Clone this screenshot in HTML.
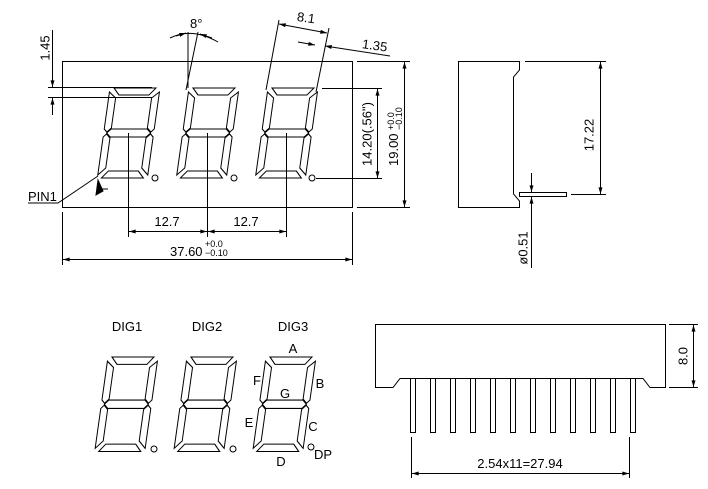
<!DOCTYPE html>
<html><head><meta charset="utf-8"><style>
html,body{margin:0;padding:0;background:#fff;}
svg{display:block;}
text{font-family:"Liberation Sans",sans-serif;font-size:13px;fill:#000;}
.t{font-size:9px;}
</style></head><body>
<svg width="708" height="489" viewBox="0 0 708 489" xmlns="http://www.w3.org/2000/svg">
<defs>
<g id="dg" fill="none" stroke="#000" stroke-width="1">
<path d="M4,0 L46,0 L40,7 L10,7 Z"/>
<path d="M0,4 L7,10 L7,40 L3,44 L0,41 Z"/>
<path d="M50,4 L50,41 L47,44 L43,40 L43,10 Z"/>
<path d="M3,45 L7,41 L43,41 L47,45 L43,49 L7,49 Z"/>
<path d="M0,49 L3,46 L7,50 L7,80 L0,87 Z"/>
<path d="M50,49 L50,87 L43,80 L43,50 L47,46 Z"/>
<path d="M10,83 L40,83 L46,90 L4,90 Z"/>
</g>
<marker id="ar" viewBox="0 0 10 6" refX="10" refY="3" markerWidth="7" markerHeight="4" orient="auto-start-reverse"><path d="M0,0 L10,3 L0,6 Z" fill="#000"/></marker>
</defs>
<g stroke="#000" stroke-width="1" fill="none">
<rect x="62.5" y="61.5" width="290" height="146"/>
<use href="#dg" transform="translate(110,88) skewX(-8)"/>
<use href="#dg" transform="translate(189,88) skewX(-8)"/>
<use href="#dg" transform="translate(268,88) skewX(-8)"/>
<circle cx="155" cy="178" r="3"/><circle cx="234" cy="178" r="3"/><circle cx="312" cy="178" r="3"/>
<line x1="48" y1="87.5" x2="152" y2="87.5"/>
<line x1="48" y1="97.5" x2="152" y2="97.5"/>
<line x1="52.5" y1="30" x2="52.5" y2="87" marker-end="url(#ar)"/>
<line x1="52.5" y1="115" x2="52.5" y2="98" marker-end="url(#ar)"/>
<line x1="188" y1="32" x2="188" y2="88"/>
<line x1="198" y1="32" x2="186" y2="90"/>
<path d="M170,38 Q192,27 218,42"/>
<path d="M176,36 L186,33" marker-end="url(#ar)"/>
<path d="M212,38 L200,34" marker-end="url(#ar)"/>
<line x1="279" y1="20" x2="266" y2="90"/>
<line x1="329" y1="28" x2="316" y2="92"/>
<line x1="279" y1="24" x2="327" y2="33" marker-start="url(#ar)" marker-end="url(#ar)"/>
<line x1="298" y1="42" x2="315" y2="45" marker-end="url(#ar)"/>
<line x1="390" y1="56" x2="325" y2="46" marker-end="url(#ar)"/>
<polyline points="28,203 58,203 98,176"/>
<path d="M98,180 L103,191 L96,195 Z" fill="#000"/>
<line x1="99" y1="189" x2="108" y2="189"/>
<line x1="128.5" y1="133" x2="128.5" y2="237"/>
<line x1="207.5" y1="133" x2="207.5" y2="237"/>
<line x1="286.5" y1="133" x2="286.5" y2="237"/>
<line x1="129" y1="231.5" x2="207" y2="231.5" marker-start="url(#ar)" marker-end="url(#ar)"/>
<line x1="208" y1="231.5" x2="286" y2="231.5" marker-start="url(#ar)" marker-end="url(#ar)"/>
<line x1="62.5" y1="212" x2="62.5" y2="265"/>
<line x1="352.5" y1="212" x2="352.5" y2="265"/>
<line x1="63" y1="259.5" x2="352" y2="259.5" marker-start="url(#ar)" marker-end="url(#ar)"/>
<line x1="357" y1="61.5" x2="410" y2="61.5"/>
<line x1="357" y1="207.5" x2="410" y2="207.5"/>
<line x1="322" y1="88.5" x2="382" y2="88.5"/>
<line x1="316" y1="178.5" x2="382" y2="178.5"/>
<line x1="377.5" y1="89" x2="377.5" y2="178" marker-start="url(#ar)" marker-end="url(#ar)"/>
<line x1="404.5" y1="62" x2="404.5" y2="207" marker-start="url(#ar)" marker-end="url(#ar)"/>
<path d="M520,61.5 L458.5,61.5 L458.5,207.5 L519.5,207.5 L519.5,201 L513.5,194 L513.5,77 L519.5,70 L519.5,61.5"/>
<rect x="519.5" y="192.5" width="47" height="4"/>
<line x1="525" y1="61.5" x2="606" y2="61.5"/>
<line x1="571" y1="194.5" x2="606" y2="194.5"/>
<line x1="600.5" y1="62" x2="600.5" y2="194" marker-start="url(#ar)" marker-end="url(#ar)"/>
<line x1="531.5" y1="173" x2="531.5" y2="192" marker-end="url(#ar)"/>
<line x1="531.5" y1="268" x2="531.5" y2="197" marker-end="url(#ar)"/>
<use href="#dg" transform="translate(108,357) skewX(-8) scale(1,1.05)"/>
<use href="#dg" transform="translate(187,357) skewX(-8) scale(1,1.05)"/>
<use href="#dg" transform="translate(266,357) skewX(-8) scale(1,1.05)"/>
<circle cx="154" cy="449" r="3"/><circle cx="233" cy="449" r="3"/><circle cx="311" cy="447" r="3"/>
<path d="M375.5,324.5 L665.5,324.5 L665.5,387.5 L650,387.5 L643,378.5 L400,378.5 L393,387.5 L375.5,387.5 Z"/>
<g>
<rect x="410.5" y="378.5" width="5" height="54"/>
<rect x="430.5" y="378.5" width="5" height="54"/>
<rect x="450.5" y="378.5" width="5" height="54"/>
<rect x="470.5" y="378.5" width="5" height="54"/>
<rect x="490.5" y="378.5" width="5" height="54"/>
<rect x="510.5" y="378.5" width="5" height="54"/>
<rect x="530.5" y="378.5" width="5" height="54"/>
<rect x="550.5" y="378.5" width="5" height="54"/>
<rect x="570.5" y="378.5" width="5" height="54"/>
<rect x="590.5" y="378.5" width="5" height="54"/>
<rect x="610.5" y="378.5" width="5" height="54"/>
<rect x="630.5" y="378.5" width="5" height="54"/>
</g>
<line x1="669" y1="324.5" x2="698" y2="324.5"/>
<line x1="669" y1="387.5" x2="698" y2="387.5"/>
<line x1="693.5" y1="325" x2="693.5" y2="387" marker-start="url(#ar)" marker-end="url(#ar)"/>
<line x1="411.5" y1="437" x2="411.5" y2="478"/>
<line x1="629.5" y1="437" x2="629.5" y2="478"/>
<line x1="412" y1="473.5" x2="629" y2="473.5" marker-start="url(#ar)" marker-end="url(#ar)"/>
</g>
<text x="46" y="48" transform="rotate(-90 46 48)" text-anchor="middle" dominant-baseline="middle">1.45</text>
<text x="190" y="28">8°</text>
<text x="297" y="22" transform="rotate(8 305 18)">8.1</text>
<text x="362" y="50" transform="rotate(8 375 46)">1.35</text>
<text x="28" y="201">PIN1</text>
<text x="167" y="226" text-anchor="middle">12.7</text>
<text x="246" y="226" text-anchor="middle">12.7</text>
<text x="170" y="256">37.60</text>
<text x="205" y="247" class="t">+0.0</text>
<text x="205" y="256" class="t">−0.10</text>
<text x="368" y="134" transform="rotate(-90 368 134)" text-anchor="middle" dominant-baseline="middle">14.20(.56")</text>
<g transform="rotate(-90 398 166)">
<text x="398" y="166">19.00</text>
<text x="434" y="162" class="t">+0.0</text>
<text x="434" y="170" class="t">−0.10</text>
</g>
<text x="590" y="135" transform="rotate(-90 590 135)" text-anchor="middle" dominant-baseline="middle">17.22</text>
<text x="524" y="248" transform="rotate(-90 524 248)" text-anchor="middle" dominant-baseline="middle">ø0.51</text>
<text x="127" y="331" text-anchor="middle">DIG1</text>
<text x="207" y="331" text-anchor="middle">DIG2</text>
<text x="293" y="331" text-anchor="middle">DIG3</text>
<text x="293" y="353" text-anchor="middle">A</text>
<text x="320" y="388" text-anchor="middle">B</text>
<text x="257" y="385" text-anchor="middle">F</text>
<text x="285" y="398" text-anchor="middle">G</text>
<text x="249" y="427" text-anchor="middle">E</text>
<text x="313" y="431" text-anchor="middle">C</text>
<text x="281" y="466" text-anchor="middle">D</text>
<text x="323" y="459" text-anchor="middle">DP</text>
<text x="684" y="356" transform="rotate(-90 684 356)" text-anchor="middle" dominant-baseline="middle">8.0</text>
<text x="520" y="468" text-anchor="middle">2.54x11=27.94</text>
</svg>
</body></html>
